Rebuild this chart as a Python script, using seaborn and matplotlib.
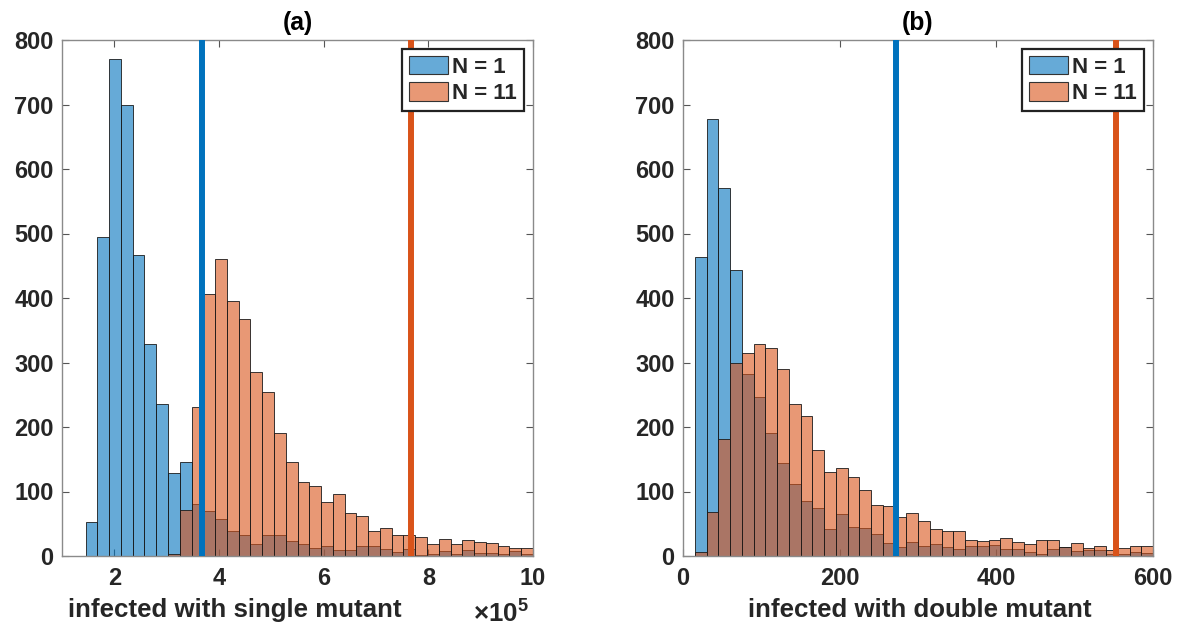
import numpy as np
import pandas as pd
import matplotlib
matplotlib.use("Agg")
import matplotlib.pyplot as plt
import seaborn as sns
from matplotlib.patches import Patch

# ---------------- data ----------------
# Panel (a): infected with single mutant (x in units of 1e5), 38 bins
a_bin_start, a_bin_width, a_nbins = 1.45, 0.225, 38
a_blue = [52, 494, 771, 699, 466, 329, 235, 129, 146, 80,
          70, 57, 38, 32, 19, 33, 32, 23, 19, 12,
          15, 9, 9, 16, 16, 11, 6, 11, 2, 3,
          8, 3, 10, 4, 4, 3, 8, 3]
a_orange = [0, 0, 0, 0, 0, 0, 0, 3, 71, 231,
            406, 461, 396, 367, 285, 254, 190, 145, 115, 108,
            83, 96, 66, 62, 39, 43, 33, 32, 29, 19,
            27, 18, 25, 21, 20, 16, 12, 12]
a_lines = [3.67, 7.66]

# Panel (b): infected with double mutant, 39 bins
b_bin_start, b_bin_width, b_nbins = 15, 15, 39
b_blue = [463, 677, 570, 443, 282, 246, 191, 144, 112, 86,
          74, 42, 65, 45, 44, 34, 20, 14, 22, 16,
          19, 14, 11, 16, 16, 17, 11, 11, 6, 3,
          11, 14, 8, 10, 9, 3, 3, 6, 5]
b_orange = [6, 68, 182, 299, 315, 329, 322, 290, 236, 217,
            165, 130, 136, 122, 102, 79, 77, 60, 66, 54,
            42, 38, 39, 25, 24, 25, 28, 22, 18, 25,
            25, 14, 20, 12, 16, 10, 13, 15, 16]
b_lines = [272, 553]

series_names = ["N = 1", "N = 11"]
titles = ["(a)", "(b)"]
xlabels = ["infected with single mutant", "infected with double mutant"]
a_xticks = [2, 4, 6, 8, 10]
b_xticks = [0, 200, 400, 600]
yticks = [0, 100, 200, 300, 400, 500, 600, 700, 800]

# ---------------- style ----------------
sns.set_theme(style="white")
plt.rcParams["font.family"] = ["Liberation Sans", "DejaVu Sans"]
plt.rcParams["font.weight"] = "bold"
plt.rcParams["mathtext.fontset"] = "custom"
plt.rcParams["mathtext.rm"] = "Liberation Sans"
plt.rcParams["mathtext.bf"] = "Liberation Sans:bold"

BLUE = (0.0, 0.447, 0.741)
ORANGE = (0.850, 0.325, 0.098)
FS_TICK = 17.0
FS_LABEL = 18.6
FS_TITLE = 17.8
FS_LEG = 16.0
SPINE = "#8a8a8a"
TXT = "#262626"

W, H = 1191, 628
fig = plt.figure(figsize=(W / 100, H / 100), dpi=100)
ax_a = fig.add_axes([62 / W, 72 / H, 471 / W, 516 / H])
ax_b = fig.add_axes([683 / W, 72 / H, 470 / W, 516 / H])


def draw_panel(ax, start, width, nbins, blue, orange, lines):
    edges = [start + width * i for i in range(nbins + 1)]
    centers = [(edges[i] + edges[i + 1]) / 2 for i in range(nbins)]
    for counts, col in ((blue, BLUE), (orange, ORANGE)):
        df = pd.DataFrame({"x": centers, "w": [float(c) for c in counts]})
        n0 = len(ax.patches)
        sns.histplot(data=df, x="x", weights="w", bins=edges, ax=ax,
                     color=col, alpha=0.6, edgecolor="black", linewidth=0.6)
        for p in ax.patches[n0:]:
            p.set_alpha(None)
            p.set_facecolor((*col, 0.6))
            p.set_edgecolor((0.1, 0.1, 0.1, 1.0))
    ax.axvline(lines[0], color=BLUE, lw=4.3, zorder=5)
    ax.axvline(lines[1], color=ORANGE, lw=4.3, zorder=5)


draw_panel(ax_a, a_bin_start, a_bin_width, a_nbins, a_blue, a_orange, a_lines)
draw_panel(ax_b, b_bin_start, b_bin_width, b_nbins, b_blue, b_orange, b_lines)

ax_a.set_xlim(1, 10)
ax_a.set_xticks(a_xticks)
ax_b.set_xlim(0, 600)
ax_b.set_xticks(b_xticks)

for ax, title, xl in zip((ax_a, ax_b), titles, xlabels):
    ax.set_ylim(0, 800)
    ax.set_yticks(yticks)
    ax.set_ylabel("")
    ax.set_title(title, fontsize=FS_TITLE, fontweight="bold", color="black", pad=7)
    ax.set_xlabel(xl, fontsize=FS_LABEL, fontweight="bold", color=TXT)
    ax.tick_params(axis="both", which="both", direction="in", length=5, width=0.8,
                   color="#555555", labelsize=FS_TICK, labelcolor=TXT,
                   top=True, right=True, bottom=True, left=True)
    ax.tick_params(axis="x", pad=8)
    ax.tick_params(axis="y", pad=6)
    for lab in ax.get_xticklabels() + ax.get_yticklabels():
        lab.set_fontweight("bold")
    for s in ax.spines.values():
        s.set_color(SPINE)
        s.set_linewidth(1.0)
        s.set_visible(True)
    handles = [Patch(facecolor=(*BLUE, 0.6), edgecolor="#333333", linewidth=0.8),
               Patch(facecolor=(*ORANGE, 0.6), edgecolor="#333333", linewidth=0.8)]
    leg = ax.legend(handles, series_names, loc="upper right",
                    prop={"weight": "bold", "size": FS_LEG},
                    frameon=True, fancybox=False, framealpha=1, edgecolor="#222222",
                    borderpad=0.3, labelspacing=0.2, handlelength=1.75,
                    handleheight=0.9, handletextpad=0.2, borderaxespad=0.42)
    leg.get_frame().set_linewidth(1.6)

ax_a.xaxis.set_label_coords(0.367, -0.082)
ax_b.xaxis.set_label_coords(0.504, -0.082)
ax_a.text(0.99, -0.130, r"$\times\mathbf{10^5}$", transform=ax_a.transAxes,
          ha="right", va="baseline", fontsize=FS_LABEL, color=TXT)

fig.savefig("out.png", dpi=100)
